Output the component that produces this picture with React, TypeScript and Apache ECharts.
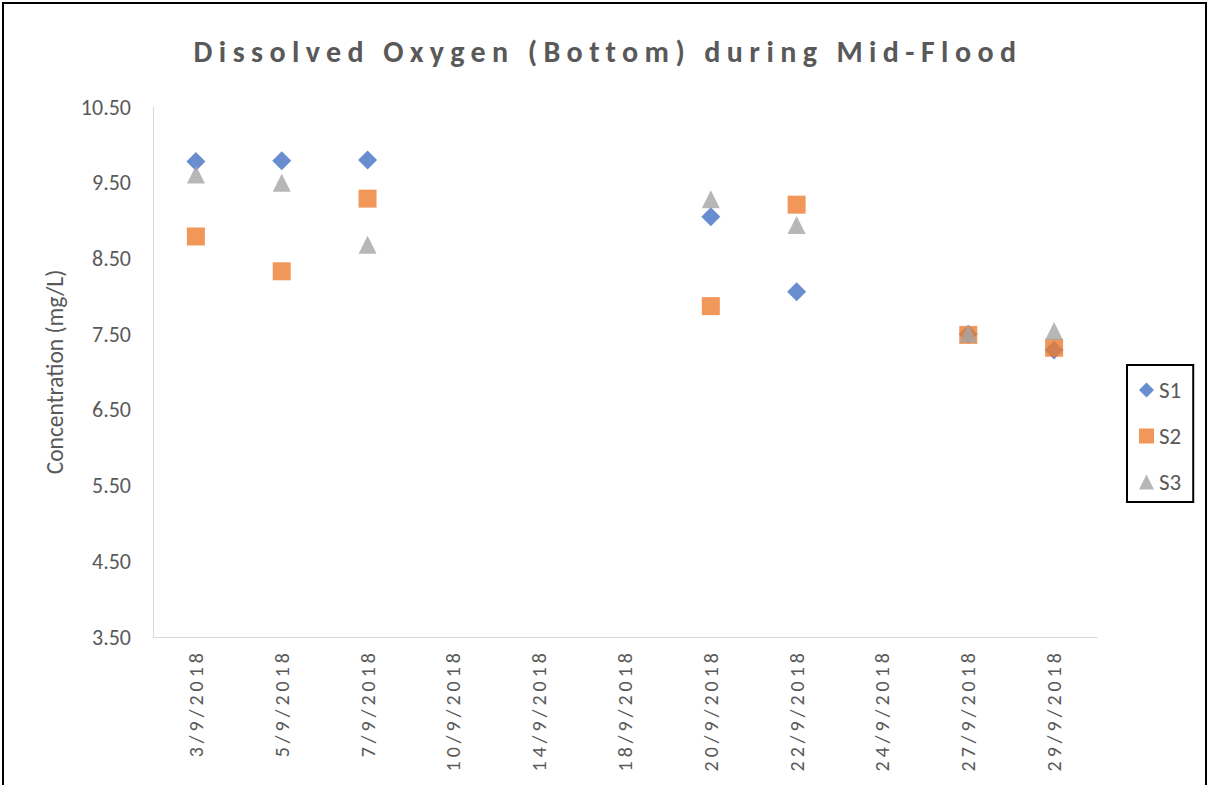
import React, { useEffect, useRef } from "react";
import * as echarts from "echarts";

const categories = [
  "3/9/2018", "5/9/2018", "7/9/2018", "10/9/2018", "14/9/2018", "18/9/2018",
  "20/9/2018", "22/9/2018", "24/9/2018", "27/9/2018", "29/9/2018",
];
const s1 = [9.78, 9.79, 9.8, null, null, null, 9.05, 8.06, null, 7.5, 7.29];
const s2 = [8.79, 8.33, 9.29, null, null, null, 7.87, 9.21, null, 7.49, 7.32];
const s3 = [9.61, 9.5, 8.68, null, null, null, 9.28, 8.94, null, 7.51, 7.54];
const seriesNames = ["S1", "S2", "S3"];
const colors = ["#4472C4", "#ED7D31", "#A5A5A5"];
const symbols = ["diamond", "rect", "triangle"];
const titleText = "Dissolved Oxygen (Bottom) during Mid-Flood";
const yAxisName = "Concentration (mg/L)";

const TEXT = "#595959";
const FONT = "Carlito, 'Open Sans', sans-serif";

export default function App() {
  const ref = useRef<HTMLDivElement>(null);
  useEffect(() => {
    if (!ref.current) return;
    const root = ref.current;
    const chart = echarts.init(root, undefined, { renderer: "svg" });
    const data = [s1, s2, s3];
    chart.setOption({
      animation: false,
      backgroundColor: "#ffffff",
      graphic: [
        {
          type: "rect",
          shape: { x: 3, y: 3, width: 1203, height: 820 },
          style: { fill: "none", stroke: "#000", lineWidth: 2 },
          silent: true,
        },
        {
          type: "text",
          x: 608,
          y: 51,
          style: {
            text: titleText,
            fill: TEXT,
            font: "bold 30px " + FONT,
            align: "center",
            verticalAlign: "middle",
          },
          silent: true,
        },
      ],
      legend: {
        orient: "vertical",
        left: 1127,
        top: 365,
        padding: [13, 12, 8, 12],
        itemGap: 22,
        itemWidth: 15,
        itemHeight: 15,
        borderColor: "#000",
        borderWidth: 2,
        textStyle: { fontFamily: FONT, fontSize: 23, lineHeight: 24, color: TEXT },
        data: seriesNames,
      },
      grid: { left: 153, top: 107, right: 113, bottom: 148, containLabel: false },
      xAxis: {
        type: "category",
        data: categories,
        boundaryGap: true,
        axisLine: { lineStyle: { color: "#d9d9d9", width: 1 } },
        axisTick: { show: false },
        axisLabel: { rotate: 90, margin: 12, fontFamily: FONT, fontSize: 20, color: TEXT, interval: 0 },
        splitLine: { show: false },
      },
      yAxis: {
        type: "value",
        min: 3.5,
        max: 10.5,
        interval: 0.5,
        name: yAxisName,
        nameLocation: "middle",
        nameGap: 86,
        nameRotate: 90,
        nameTextStyle: { fontFamily: FONT, fontSize: 23.5, color: TEXT },
        axisLine: { show: true, lineStyle: { color: "#d9d9d9", width: 1 } },
        axisTick: { show: false },
        splitLine: { show: false },
        axisLabel: {
          margin: 22,
          fontFamily: FONT,
          fontSize: 22,
          color: TEXT,
          formatter: (v: number) => (Math.abs((v - 3.5) % 1) < 1e-6 ? v.toFixed(2) : ""),
        },
      },
      series: seriesNames.map((n, i) => ({
        name: n,
        type: "scatter",
        data: data[i],
        symbol: symbols[i],
        symbolSize: i === 0 ? 19 : 18,
        itemStyle: { color: colors[i] },
      })),
    });
    const space = () => {
      root.querySelectorAll("text").forEach((t) => {
        const s = t.textContent || "";
        if (s === titleText) (t as SVGTextElement).style.letterSpacing = "6.4px";
        else if (categories.includes(s)) (t as SVGTextElement).style.letterSpacing = "4px";
      });
    };
    space();
    chart.on("finished", space);
    const tm = setTimeout(space, 50);
    return () => {
      clearTimeout(tm);
      chart.dispose();
    };
  }, []);
  return (
    <div
      ref={ref}
      style={{ position: "absolute", left: 0, top: 0, width: 1210, height: 785 }}
    />
  );
}
